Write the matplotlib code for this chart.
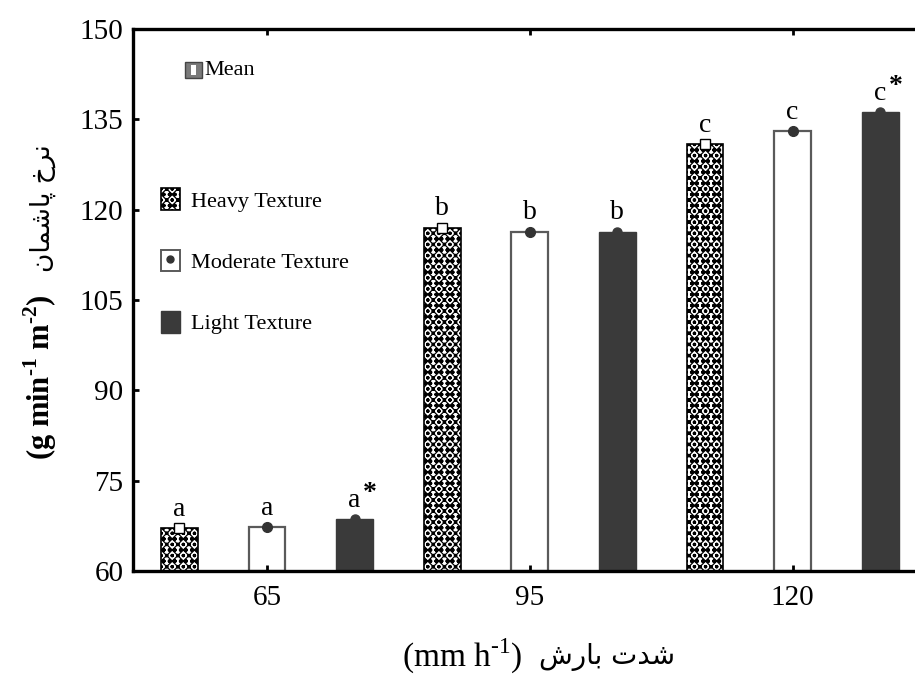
import matplotlib
matplotlib.use("Agg")
from matplotlib import pyplot as plt
from matplotlib.patches import Patch, Rectangle
from matplotlib.lines import Line2D

plt.rcParams['font.family'] = ['Liberation Serif', 'DejaVu Serif']
plt.rcParams['mathtext.fontset'] = 'custom'
plt.rcParams['mathtext.rm'] = 'Liberation Serif'
plt.rcParams['mathtext.bf'] = 'Liberation Serif:bold'
plt.rcParams['hatch.linewidth'] = 0.9

# data
intensity = ["65", "95", "120"]
heavy = [67.1, 117.0, 130.9]
moderate = [67.3, 116.3, 133.0]
light = [68.6, 116.3, 136.2]
heavy_letters = ["a", "b", "c"]
moderate_letters = ["a", "b", "c"]
light_letters = ["a*", "b", "c*"]
yticks = [60, 75, 90, 105, 120, 135, 150]

# persian text written in presentation forms (visual order) since matplotlib does no shaping
ylabel_fa = "\uFEE5\uFE8E\uFEE4\uFEB7\uFE8E\uFB58 \uFEA5\uFEAE\uFEE7"   # نرخ پاشمان
xlabel_fa = "\uFEB5\uFEAD\uFE8E\uFE91 \uFE95\uFEAA\uFEB7"               # شدت بارش

fig = plt.figure(figsize=(9.15, 6.8), dpi=100)
ax = fig.add_axes([133/915, 1 - 571/680, (924 - 133)/915, (571 - 29)/680])

w = 0.42
dark = "#3a3a3a"
heavy_hatch = "oooxxx"
series = [
    (heavy, heavy_letters, dict(facecolor="white", edgecolor="black", hatch=heavy_hatch, linewidth=1.2)),
    (moderate, moderate_letters, dict(facecolor="white", edgecolor="#5a5a5a", linewidth=1.6)),
    (light, light_letters, dict(facecolor=dark, edgecolor=dark, linewidth=1.0)),
]
mean_style = [
    dict(marker="s", markersize=6.5, markerfacecolor="white", markeredgecolor="black", markeredgewidth=1.0),
    dict(marker="o", markersize=7, markerfacecolor="#333333", markeredgecolor="#333333"),
    dict(marker="o", markersize=6.5, markerfacecolor=dark, markeredgecolor=dark),
]

for k, (vals, letters, style) in enumerate(series):
    xs = [3 * i + k for i in range(len(vals))]
    ax.bar(xs, [v - 60 for v in vals], bottom=60, width=w, **style)
    ax.plot(xs, vals, linestyle="none", zorder=3, **mean_style[k])
    for x, v, lab in zip(xs, vals, letters):
        ax.annotate(lab[0], (x, v), xytext=(0, 9), textcoords="offset points",
                    ha="center", va="baseline", fontsize=20)
        if lab.endswith("*"):
            ax.annotate("*", (x, v), xytext=(6, 14), textcoords="offset points",
                        ha="left", va="baseline", fontsize=20, fontweight="bold")

ax.set_xlim(-0.53, 8.5)
ax.set_ylim(60, 150)
ax.set_yticks(yticks)
ax.set_xticks([1, 4, 7])
ax.set_xticklabels(intensity)
ax.tick_params(axis="both", direction="in", length=4, width=2, labelsize=21)
ax.tick_params(axis="x", top=True, pad=10)
ax.tick_params(axis="y", pad=7)
for s in ["left", "top", "bottom"]:
    ax.spines[s].set_linewidth(2.4)
ax.spines["right"].set_visible(False)

# legend
h_heavy = Patch(facecolor="white", edgecolor="black", hatch=heavy_hatch, linewidth=1.2)
h_mod = (Patch(facecolor="white", edgecolor="#5a5a5a", linewidth=1.4),
         Line2D([], [], linestyle="none", marker="o", markersize=5, color="#333333"))
h_light = Patch(facecolor=dark, edgecolor=dark)
ax.legend([h_heavy, h_mod, h_light], ["Heavy Texture", "Moderate Texture", "Light Texture"],
          loc="upper left", bbox_to_anchor=(0.035, 0.706), frameon=False, fontsize=16,
          handlelength=0.85, handleheight=1.1, handletextpad=0.5, labelspacing=1.72,
          borderpad=0, borderaxespad=0)

# mean key
ax.add_patch(Rectangle((0.066, 0.909), 0.021, 0.03, transform=ax.transAxes,
                       facecolor="#7a7a7a", edgecolor="#444444", linewidth=1))
ax.add_patch(Rectangle((0.073, 0.915), 0.007, 0.018, transform=ax.transAxes,
                       facecolor="white", edgecolor="none"))
ax.text(0.09, 0.924, "Mean", transform=ax.transAxes, fontsize=16, va="center", ha="left")

# axis labels
fig.text(50/915, 1 - 377/680, "(g min$^{\\mathbf{\u20101}}$ m$^{\\mathbf{\u20102}}$)", rotation=90,
         rotation_mode="anchor", ha="center", va="baseline", fontsize=22, fontweight="bold")
fig.text(50/915, 1 - 208/680, ylabel_fa, rotation=90, rotation_mode="anchor",
         ha="center", va="baseline", fontsize=19, family="DejaVu Sans")
fig.text(462/915, 1 - 667/680, "(mm h$^{\u20101}$)", ha="center", va="baseline", fontsize=24)
fig.text(607/915, 1 - 664/680, xlabel_fa, ha="center", va="baseline", fontsize=20,
         family="DejaVu Sans")

fig.savefig("out.png", dpi=100)
